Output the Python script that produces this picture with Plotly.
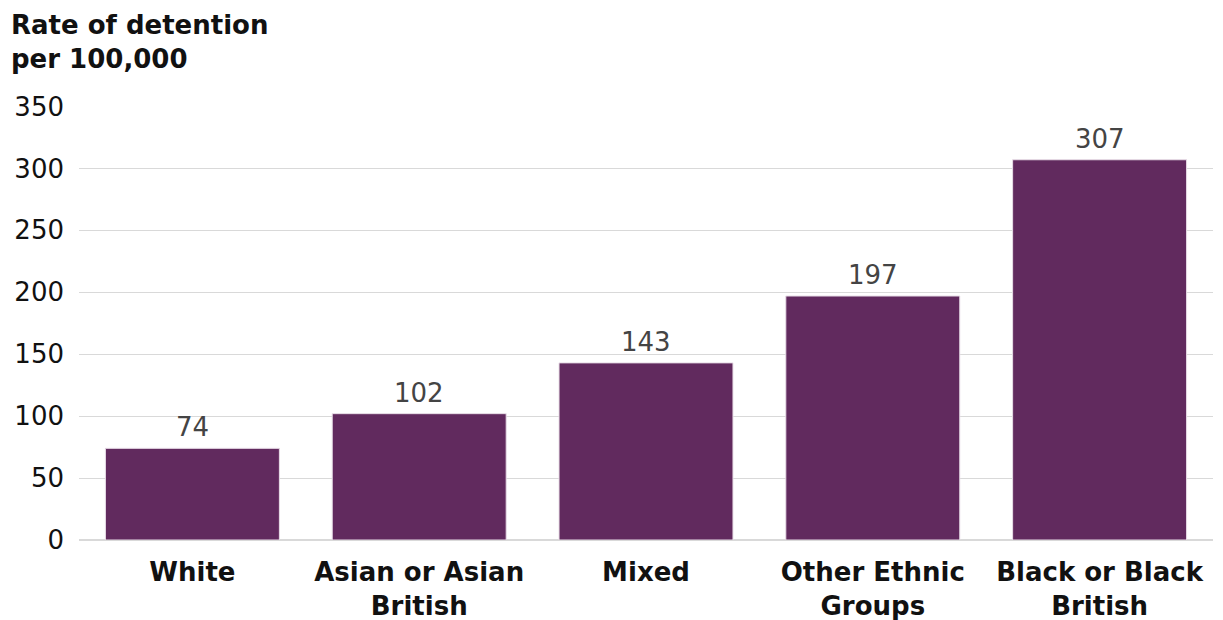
import plotly.graph_objects as go

categories = ["White", "Asian or Asian<br>British", "Mixed", "Other Ethnic<br>Groups", "Black or Black<br>British"]
values = [74, 102, 143, 197, 307]
y_ticks = [0, 50, 100, 150, 200, 250, 300, 350]

FONT = "DejaVu Sans"
SIZE = 26
fig = go.Figure(go.Bar(
    x=categories, y=values,
    marker=dict(color="#612A5E", line=dict(color="#E8DDE7", width=1)),
    cliponaxis=False,
))
annotations = [dict(
    text="<b>Rate of detention<br>per 100,000</b>",
    xref="paper", yref="paper", x=-0.062, y=1.0, xanchor="left", yanchor="bottom",
    yshift=30, align="left", showarrow=False,
    font=dict(family=FONT, size=SIZE, color="#111111"),
)]
for c, v in zip(categories, values):
    annotations.append(dict(
        x=c, y=v, xref="x", yref="y", text=str(v), showarrow=False,
        yanchor="bottom", yshift=4,
        font=dict(family=FONT, size=SIZE, color="#444444"),
    ))
fig.update_layout(
    width=1223, height=620,
    margin=dict(l=79, r=10, t=106, b=80),
    plot_bgcolor="white", paper_bgcolor="white",
    bargap=0.233,
    showlegend=False,
    font=dict(family=FONT, size=SIZE, color="#111111"),
    annotations=annotations,
)
fig.update_yaxes(range=[0, 350.4], tickvals=y_ticks, gridcolor="#D9D9D9", zeroline=True,
                 zerolinecolor="#D9D9D9", ticklabelstandoff=14, automargin=False,
                 tickfont=dict(size=SIZE, color="#111111"), showline=False)
fig.update_xaxes(tickfont=dict(size=SIZE, color="#111111"), showline=False, automargin=False,
                 ticktext=["<b>" + c + "</b>" for c in categories], tickvals=categories,
                 ticklabelstandoff=14)
fig.write_html("out.html")
